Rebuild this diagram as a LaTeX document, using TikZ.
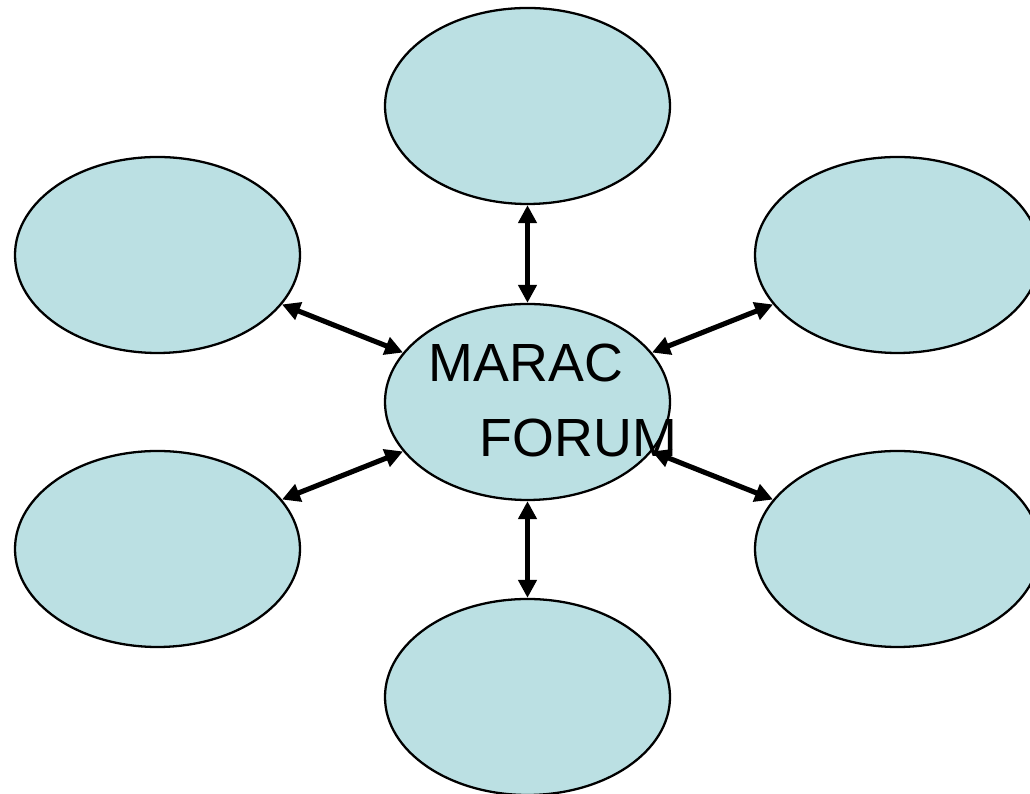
\documentclass[tikz,border=0pt]{standalone}
\usepackage{fontspec}
\setmainfont{Liberation Sans}
\usetikzlibrary{shapes.geometric,arrows.meta}
\definecolor{bubblefill}{RGB}{187,224,227}
\begin{document}
\begin{tikzpicture}[line cap=round]
        % Styles
        \tikzstyle{bubble}=[ellipse,draw=black,line width=0.65pt,fill=bubblefill,minimum width=2.85cm,minimum height=1.96cm,inner sep=0pt]
        \tikzstyle{link}=[line width=1.45pt,{Triangle[length=1.8mm,width=1.8mm]}-{Triangle[length=1.8mm,width=1.8mm]}]
        \tikzstyle{forum text}=[inner sep=0pt,align=left,font=\fontsize{15.3}{21.6}\selectfont]
        %page
        \useasboundingbox (0,0) rectangle (10.30,7.94);
        \clip (0,0) rectangle (10.30,7.94);
        %the bubbles
        \node[bubble] (forum) at (5.275,3.92) {};
        \foreach \name/\pos in {top/{(5.275,6.88)},bottom/{(5.275,0.97)},lefttop/{(1.575,5.39)},leftbot/{(1.575,2.45)},righttop/{(8.975,5.39)},rightbot/{(8.975,2.45)}}
            \node[bubble] (\name) at \pos {};
        \node[forum text] (title) at (5.53,3.935) {MARAC\\\hspace{0.51cm}FORUM};
        %arrows
        \foreach \name in {top,bottom,lefttop,leftbot,righttop,rightbot}
            \draw[link] (forum) -- (\name);
\end{tikzpicture}
\end{document}
